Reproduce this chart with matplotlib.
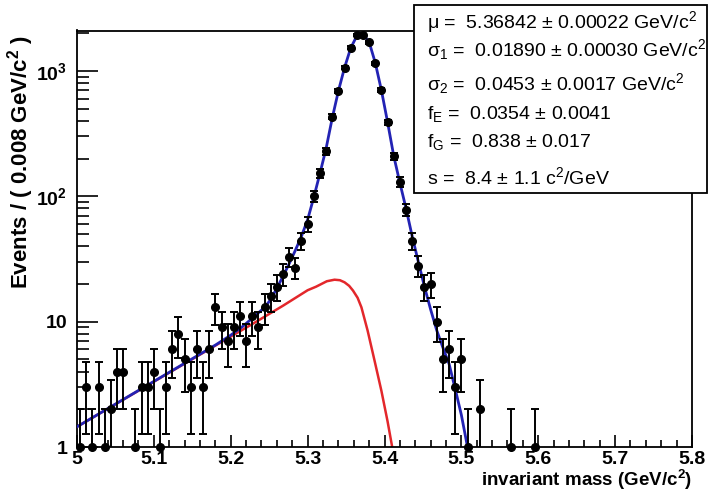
import matplotlib
matplotlib.use("Agg")
import matplotlib.pyplot as plt
from matplotlib.patches import Rectangle
from matplotlib.ticker import FixedLocator, FixedFormatter, NullFormatter
import numpy as np

plt.rcParams['font.family'] = ['Liberation Sans', 'DejaVu Sans']
plt.rcParams['mathtext.fontset'] = 'custom'
plt.rcParams['mathtext.rm'] = 'Liberation Sans'
plt.rcParams['mathtext.it'] = 'Liberation Sans:italic'
plt.rcParams['mathtext.bf'] = 'Liberation Sans:bold'

# histogram: 100 bins of 0.008 GeV from 5.0 to 5.8 (counts)
bin_lo = 5.0
bin_w = 0.008
counts = [1, 3, 1, 3, 1, 2, 4, 4, 0, 1,
          3, 3, 4, 1, 3, 6, 8, 5, 3, 6,
          3, 6, 13, 9, 7, 9, 11, 7, 11, 9,
          13, 16, 19, 24, 33, 27, 44, 60, 100, 152,
          229, 431, 692, 1062, 1535, 1940, 1940, 1690, 1150, 706,
          389, 208, 130, 78, 44, 28, 19, 20, 10, 5,
          6, 3, 5, 1, 0, 2, 0, 0, 0, 0,
          1, 0, 0, 0, 1] + [0] * 25

# total fit curve (blue)
fit_m = [5.000, 5.180, 5.200, 5.215, 5.230, 5.244, 5.252, 5.260, 5.268, 5.276,
         5.284, 5.292, 5.300, 5.308, 5.316, 5.324, 5.332, 5.340, 5.348, 5.356,
         5.364, 5.368, 5.372, 5.380, 5.388, 5.396, 5.404, 5.412, 5.420, 5.428,
         5.436, 5.444, 5.452, 5.460, 5.468, 5.476, 5.484, 5.492, 5.500, 5.508]
fit_v = [1.45, 6.5, 7.8, 9.1, 10.9, 13.0, 15.0, 18.5, 23.0, 29.0,
         37.0, 48.0, 65.0, 98.0, 152.0, 240.0, 420.0, 690.0, 1060.0, 1520.0,
         1900.0, 1990.0, 1950.0, 1700.0, 1160.0, 700.0, 390.0, 210.0, 128.0, 80.0,
         48.0, 30.0, 19.0, 12.5, 8.5, 6.2, 4.6, 2.9, 1.8, 1.0]

# background component (red)
bkg_m = [5.000, 5.200, 5.2247, 5.268, 5.300, 5.311, 5.325, 5.335, 5.342, 5.348,
         5.354, 5.359, 5.365, 5.370, 5.378, 5.387, 5.396, 5.404, 5.410]
bkg_v = [1.45, 7.6, 9.3, 13.4, 17.8, 19.0, 21.0, 21.6, 21.4, 20.6,
         19.3, 17.7, 15.5, 13.0, 8.5, 4.9, 2.8, 1.6, 1.0]

box_lines = [
    "\u03bc =  5.36842 \u00b1 0.00022 GeV/c$^\\mathregular{2}$",
    "\u03c3$_\\mathregular{1}$ =  0.01890 \u00b1 0.00030 GeV/c$^\\mathregular{2}$",
    "\u03c3$_\\mathregular{2}$ =  0.0453 \u00b1 0.0017 GeV/c$^\\mathregular{2}$",
    "f$_\\mathregular{E}$ =  0.0354 \u00b1 0.0041",
    "f$_\\mathregular{G}$ =  0.838 \u00b1 0.017",
    "s =  8.4 \u00b1 1.1 c$^\\mathregular{2}$/GeV",
]
box_y_px = [28, 56, 90, 119, 147, 184]  # baselines in pixels from top

W, H = 710, 493
fig = plt.figure(figsize=(W / 100, H / 100), dpi=100)
ax = fig.add_axes([77 / W, 1 - 447 / H, (692 - 77) / W, (447 - 30.5) / H])

counts = np.array(counts, dtype=float)
centers = bin_lo + bin_w * (np.arange(len(counts)) + 0.5)
sel = counts > 0
n = counts[sel]
x = centers[sel]
err = np.sqrt(n)
lo = np.maximum(n - err, 0.5)

ax.plot(bkg_m, bkg_v, color='#e3272b', lw=1.8, zorder=2)
ax.plot(fit_m, fit_v, color='#2323b4', lw=2.0, zorder=3)
ax.errorbar(x, n, yerr=[n - lo, err], fmt='none', ecolor='black',
            elinewidth=1.4, capsize=3.2, capthick=1.4, zorder=4)
ax.plot(x, n, 'o', color='black', ms=5.5, zorder=5, clip_on=False)

ax.set_yscale('log')
ax.set_xlim(5.0, 5.8)
ax.set_ylim(1, 2100)

ax.xaxis.set_major_locator(FixedLocator([5.0, 5.1, 5.2, 5.3, 5.4, 5.5, 5.6, 5.7, 5.8]))
ax.xaxis.set_major_formatter(FixedFormatter(['5', '5.1', '5.2', '5.3', '5.4', '5.5', '5.6', '5.7', '5.8']))
ax.xaxis.set_minor_locator(FixedLocator(np.arange(5.0, 5.8001, 0.02)))
ax.yaxis.set_major_locator(FixedLocator([1, 10, 100, 1000]))
ax.yaxis.set_major_formatter(FixedFormatter(['1', '10', r'10$^\mathregular{2}$', r'10$^\mathregular{3}$']))
minors = [k * 10 ** d for d in range(0, 4) for k in range(2, 10) if k * 10 ** d < 2100]
ax.yaxis.set_minor_locator(FixedLocator(minors))
ax.yaxis.set_minor_formatter(NullFormatter())

ax.tick_params(axis='x', which='major', direction='in', length=9, width=1.2,
               labelsize=14, pad=3)
ax.tick_params(axis='x', which='minor', direction='in', length=5, width=1.2)
ax.tick_params(axis='y', which='major', direction='in', length=15, width=1.2,
               labelsize=14, pad=7)
ax.tick_params(axis='y', which='minor', direction='in', length=8.5, width=1.2)
for lab in ax.get_xticklabels() + ax.get_yticklabels():
    lab.set_fontweight('bold')
for s in ax.spines.values():
    s.set_linewidth(1.3)

ax.set_xlabel(r'invariant mass (GeV/c$^\mathregular{2}$)', fontsize=13.5,
              fontweight='bold', ha='right', x=1.0)
ax.set_ylabel(r'Events / ( 0.008 GeV/c$^\mathregular{2}$ )', fontsize=16,
              fontweight='bold', ha='right', y=1.0)
ax.xaxis.set_label_coords(1.0, -0.05)
ax.yaxis.set_label_coords(-0.067, 0.99)

box = Rectangle((414 / W, 1 - 193 / H), (707 - 414) / W, (193 - 5) / H,
                transform=fig.transFigure, facecolor='white', edgecolor='black',
                lw=1.3, zorder=10)
fig.add_artist(box)
for txt, yp in zip(box_lines, box_y_px):
    fig.text(427 / W, 1 - yp / H, txt, fontsize=14, va='baseline', ha='left',
             zorder=11)

fig.savefig('out.png', dpi=100)
